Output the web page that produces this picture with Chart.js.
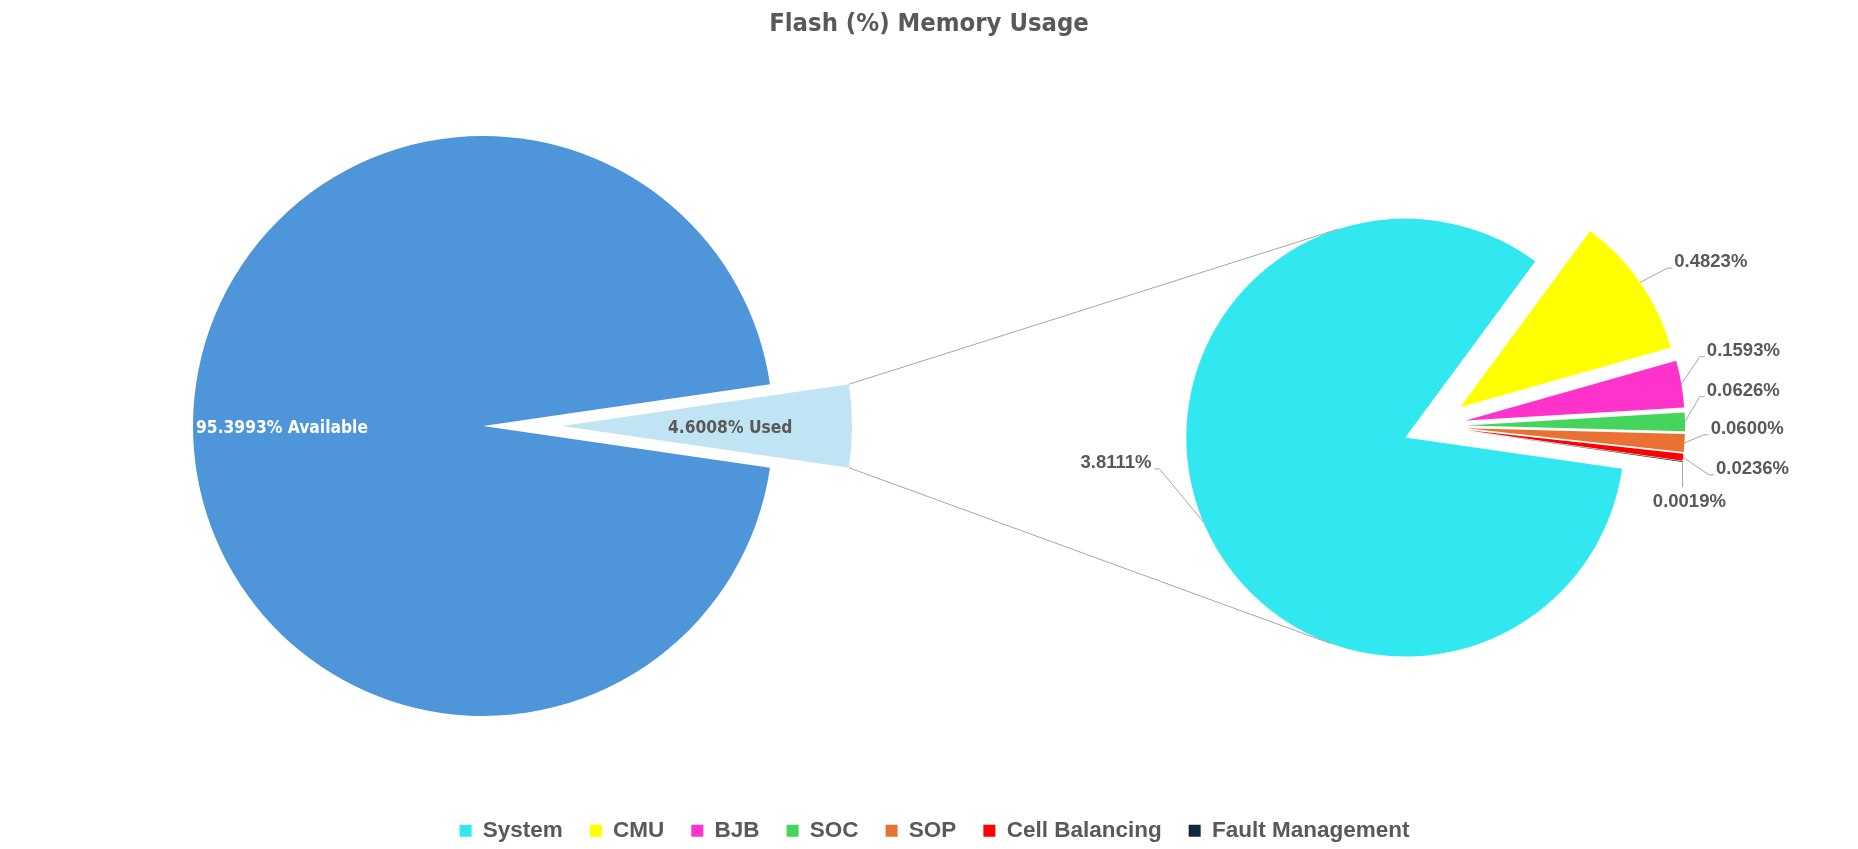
<!DOCTYPE html>
<html>
<head>
<meta charset="utf-8">
<script src="https://cdn.jsdelivr.net/npm/chart.js@4.4.1/dist/chart.umd.min.js"></script>
<style>
  html, body { margin: 0; padding: 0; background: #ffffff; }
  #wrap { position: relative; width: 1858px; height: 849px; overflow: hidden; background: #ffffff; }
  #wrap canvas { position: absolute; left: 0; top: 0; }
</style>
</head>
<body>
<div id="wrap">
  <canvas id="rightPie" width="1858" height="849"></canvas>
  <canvas id="leftPie" width="1858" height="849"></canvas>
</div>
<script>
// ---------------- data ----------------
const chartTitle = 'Flash (%) Memory Usage';
const overviewCategories = ['Available', 'Used'];
const overviewValues = [95.3993, 4.6008];
const usedCategories = ['System', 'CMU', 'BJB', 'SOC', 'SOP', 'Cell Balancing', 'Fault Management'];
const usedValues = [3.8111, 0.4823, 0.1593, 0.0626, 0.0600, 0.0236, 0.0019];

// ---------------- styles ----------------
const overviewColors = ['#4E95D9', '#C1E4F5'];
const usedColors = ['#31E8F0', '#FFFF00', '#FF33CC', '#45D45C', '#E97132', '#FF0000', '#0E2841'];
const TEXT_GRAY = '#595959';
const LINE_GRAY = '#A6A6A6';
const NARROW = '"DejaVu Sans Condensed", "DejaVu Sans", sans-serif';
const SANS = '"Liberation Sans", Arial, sans-serif';

// ---------------- exploded pie (translate slices fully along their mid angle) ----------------
class ExplodedArc extends Chart.ArcElement {
  draw(ctx) {
    const c = this.$context;
    const list = c && c.dataset && c.dataset.explode;
    const e = list ? (list[c.dataIndex] || 0) : 0;
    const mid = (this.startAngle + this.endAngle) / 2;
    ctx.save();
    ctx.translate(Math.cos(mid) * e, Math.sin(mid) * e);
    super.draw(ctx);
    ctx.restore();
  }
}
ExplodedArc.id = 'explodedArc';
class ExplodedPieController extends Chart.PieController {}
ExplodedPieController.id = 'explodedPie';
ExplodedPieController.defaults = { dataElementType: 'explodedArc' };
Chart.register(ExplodedArc, ExplodedPieController);

// place the pie's frame (center + radius) on the canvas
const pieFrame = {
  id: 'pieFrame',
  afterLayout(chart, args, opts) {
    const r = opts.r;
    chart.chartArea = {
      left: opts.cx - r, right: opts.cx + r, top: opts.cy - r, bottom: opts.cy + r,
      width: 2 * r, height: 2 * r
    };
  }
};

function sliceGeom(chart, i) {
  const ds = chart.data.datasets[0];
  const arc = chart.getDatasetMeta(0).data[i];
  const e = (ds.explode && ds.explode[i]) || 0;
  const mid = (arc.startAngle + arc.endAngle) / 2;
  const cx = arc.x + Math.cos(mid) * e;
  const cy = arc.y + Math.sin(mid) * e;
  return { cx: cx, cy: cy, r: arc.outerRadius, start: arc.startAngle, end: arc.endAngle, mid: mid };
}

// labels of the overview pie
const overviewLabels = {
  id: 'overviewLabels',
  afterDatasetsDraw(chart, args, opts) {
    const ctx = chart.ctx;
    ctx.save();
    ctx.font = 'bold ' + opts.size + 'px ' + NARROW;
    ctx.textBaseline = 'middle';
    overviewValues.forEach(function (v, i) {
      const g = sliceGeom(chart, i);
      const text = v.toFixed(4) + '% ' + overviewCategories[i];
      const lay = opts.layout[i];
      ctx.fillStyle = lay.color;
      if (lay.mode === 'edge') {
        ctx.textAlign = 'left';
        ctx.fillText(text, g.cx + Math.cos(g.mid) * g.r + lay.inset, g.cy + Math.sin(g.mid) * g.r + opts.shiftY);
      } else {
        ctx.textAlign = 'center';
        ctx.fillText(text, g.cx + Math.cos(g.mid) * g.r * lay.frac, g.cy + Math.sin(g.mid) * g.r * lay.frac + opts.shiftY);
      }
    });
    ctx.restore();
  }
};

// labels + leader lines of the detail pie, and connector lines between the pies
const detailLabels = {
  id: 'detailLabels',
  afterDatasetsDraw(chart, args, opts) {
    const ctx = chart.ctx;
    ctx.save();
    ctx.font = 'bold ' + opts.size + 'px ' + SANS;
    ctx.textBaseline = 'middle';
    ctx.strokeStyle = LINE_GRAY;
    ctx.lineWidth = 1;
    usedValues.forEach(function (v, i) {
      const g = sliceGeom(chart, i);
      const ax = g.cx + Math.cos(g.mid) * g.r;
      const ay = g.cy + Math.sin(g.mid) * g.r;
      const lay = opts.layout[i];
      const text = v.toFixed(4) + '%';
      const tx = ax + lay.dx, ty = ay + lay.dy;
      ctx.beginPath();
      if (lay.side === 'right') {
        ctx.textAlign = 'left';
        ctx.moveTo(ax, ay); ctx.lineTo(tx - 7, ty + 6); ctx.lineTo(tx - 2, ty + 6);
      } else if (lay.side === 'left') {
        ctx.textAlign = 'right';
        ctx.moveTo(ax, ay); ctx.lineTo(tx + 8, ty + 6); ctx.lineTo(tx + 3, ty + 6);
      } else {
        ctx.textAlign = 'center';
        ctx.moveTo(ax, ay); ctx.lineTo(ax, ty - 15);
      }
      ctx.stroke();
      ctx.fillStyle = TEXT_GRAY;
      ctx.fillText(text, tx, ty);
    });

    // connector lines from the "Used" slice to the detail pie
    if (window.leftChart) {
      const u = sliceGeom(window.leftChart, 1);
      const s = sliceGeom(chart, 0);
      [[u.start, 1], [u.end, -1]].forEach(function (pair) {
        const px = u.cx + Math.cos(pair[0]) * u.r;
        const py = u.cy + Math.sin(pair[0]) * u.r;
        const dx = px - s.cx, dy = py - s.cy;
        const d = Math.sqrt(dx * dx + dy * dy);
        const phi = Math.atan2(dy, dx);
        const alpha = Math.acos(s.r / d);
        const t = phi + pair[1] * alpha;
        ctx.beginPath();
        ctx.moveTo(px, py);
        ctx.lineTo(s.cx + Math.cos(t) * s.r, s.cy + Math.sin(t) * s.r);
        ctx.stroke();
      });
    }
    ctx.restore();
  }
};

// ---------------- overview pie (left) ----------------
window.leftChart = new Chart(document.getElementById('leftPie'), {
  type: 'explodedPie',
  data: {
    labels: overviewCategories,
    datasets: [{
      data: overviewValues,
      backgroundColor: overviewColors,
      borderWidth: 0,
      explode: [0, 79],
      rotation: 90 + 180 * overviewValues[1] / (overviewValues[0] + overviewValues[1]),
      radius: 290,
      clip: false
    }]
  },
  options: {
    responsive: false,
    animation: false,
    events: [],
    layout: { padding: 0 },
    plugins: {
      legend: { display: false },
      tooltip: { enabled: false },
      title: {
        display: true,
        text: chartTitle,
        color: TEXT_GRAY,
        font: { family: NARROW, size: 25.4, weight: 'bold', lineHeight: 1.2 },
        padding: { top: 9.5, bottom: 0 }
      },
      pieFrame: { cx: 483, cy: 426, r: 290 },
      overviewLabels: {
        size: 17.3,
        shiftY: 2.5,
        layout: [
          { mode: 'edge', inset: 3, color: '#FFFFFF' },
          { mode: 'radial', frac: 0.58, color: TEXT_GRAY }
        ]
      }
    }
  },
  plugins: [pieFrame, overviewLabels]
});

// ---------------- detail pie (right) ----------------
window.rightChart = new Chart(document.getElementById('rightPie'), {
  type: 'explodedPie',
  data: {
    labels: usedCategories,
    datasets: [{
      data: usedValues,
      backgroundColor: usedColors,
      borderWidth: 0,
      explode: [30, 33, 33, 33, 33, 33, 33],
      rotation: 98.2,
      radius: 219,
      clip: false
    }]
  },
  options: {
    responsive: false,
    animation: false,
    events: [],
    layout: { padding: { left: 11, bottom: -3, top: 0, right: 0 } },
    plugins: {
      tooltip: { enabled: false },
      title: { display: false },
      legend: {
        display: true,
        position: 'bottom',
        align: 'center',
        labels: {
          color: TEXT_GRAY,
          font: { family: SANS, size: 22.5, weight: 'bold' },
          boxWidth: 12,
          boxHeight: 12,
          padding: 27
        }
      },
      pieFrame: { cx: 1433, cy: 426, r: 219 },
      detailLabels: {
        size: 18.5,
        layout: [
          { side: 'left', dx: -51.8, dy: -59.2 },
          { side: 'right', dx: 34.2, dy: -20.3 },
          { side: 'right', dx: 25.4, dy: -33.2 },
          { side: 'right', dx: 21.7, dy: -31.2 },
          { side: 'right', dx: 26.2, dy: -14.1 },
          { side: 'right', dx: 32.9, dy: 11.6 },
          { side: 'below', dx: 6.9, dy: 40.7 }
        ]
      }
    }
  },
  plugins: [pieFrame, detailLabels]
});
</script>
</body>
</html>
